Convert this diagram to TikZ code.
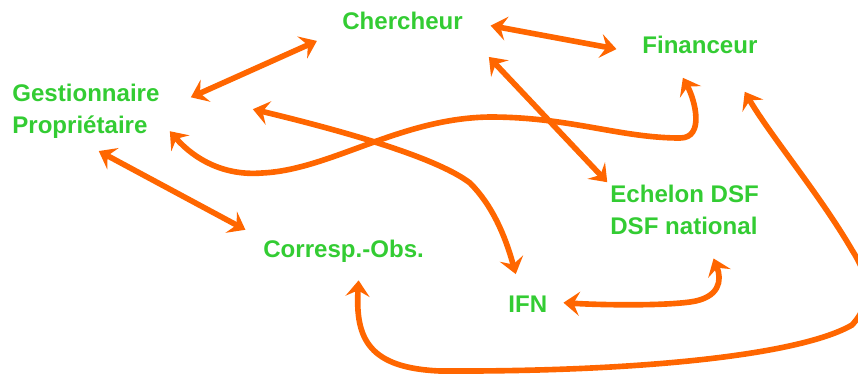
\documentclass[tikz,border=0pt]{standalone}
\usepackage{fontspec}
\setmainfont{Liberation Sans}
\usetikzlibrary{arrows.meta}
\definecolor{actorgreen}{RGB}{51,204,51}
\definecolor{linkorange}{RGB}{255,102,0}
\begin{document}
\begin{tikzpicture}
                [x=0.02cm, y=-0.02cm,
                actor/.style={anchor=west, inner sep=0pt, text=actorgreen, font=\fontsize{13.7}{18.2}\selectfont\bfseries},
                link/.style={draw=linkorange, line width=3.2pt, {Stealth[length=3.2mm,width=4.8mm,inset=1.2mm]}-{Stealth[length=3.2mm,width=4.8mm,inset=1.2mm]}}]
                \useasboundingbox (0,0) rectangle (858,376);
                % Define nodes
                \node[actor] (cher) at (342,20.5) {Chercheur};
                \node[actor] (fin) at (642,44.6) {Financeur};
                \node[actor, align=left] (gest) at (12,111.2) {Gestionnaire\\Propriétaire};
                \node[actor, align=left] (ech) at (610,210.3) {Echelon DSF\\DSF national};
                \node[actor] (corr) at (263,250.8) {Corresp.-Obs.};
                \node[actor] (ifn) at (508,304.7) {IFN};
                % Define edges
                \draw[link, shorten <=0.68cm, shorten >=0.55cm] (gest.east) -- (cher.south west);
                \draw[link, shorten <=0.56cm, shorten >=0.52cm] (cher.east) -- (fin.south west);
                \draw[link, shorten <=0.75cm, shorten >=0.08cm] (cher.south east) -- (ech.north west);
                \draw[link, shorten <=0.52cm, shorten >=0.4cm] (gest.250) -- (corr.north west);
                \draw[link] ([shift={(10,20)}]gest.east) .. controls (195,160) and (225,176) .. (262,173)
                    .. controls (330,170) and (400,118) .. (490,117)
                    .. controls (570,117) and (620,138) .. (680,138)
                    .. controls (705,138) and (695,100) .. ([shift={(-17,24)}]fin.south);
                \draw[link] ([shift={(93,-2)}]gest.east) .. controls (360,135) and (440,160) .. (470,183)
                    .. controls (492,205) and (505,235) .. ([shift={(-12,-22)}]ifn.north);
                \draw[link] ([shift={(16,-2)}]ifn.east) .. controls (600,305) and (660,306) .. (690,302)
                    .. controls (720,298) and (722,280) .. ([shift={(29,23)}]ech.south);
                \draw[link] ([shift={(15,18)}]corr.south) .. controls (355,340) and (370,368) .. (440,371)
                    .. controls (640,372) and (800,355) .. (852,325)
                    .. controls (875,300) and (868,275) .. (852,250)
                    .. controls (820,195) and (770,135) .. ([shift={(-13,38)}]fin.south east);
            \end{tikzpicture}
\end{document}
